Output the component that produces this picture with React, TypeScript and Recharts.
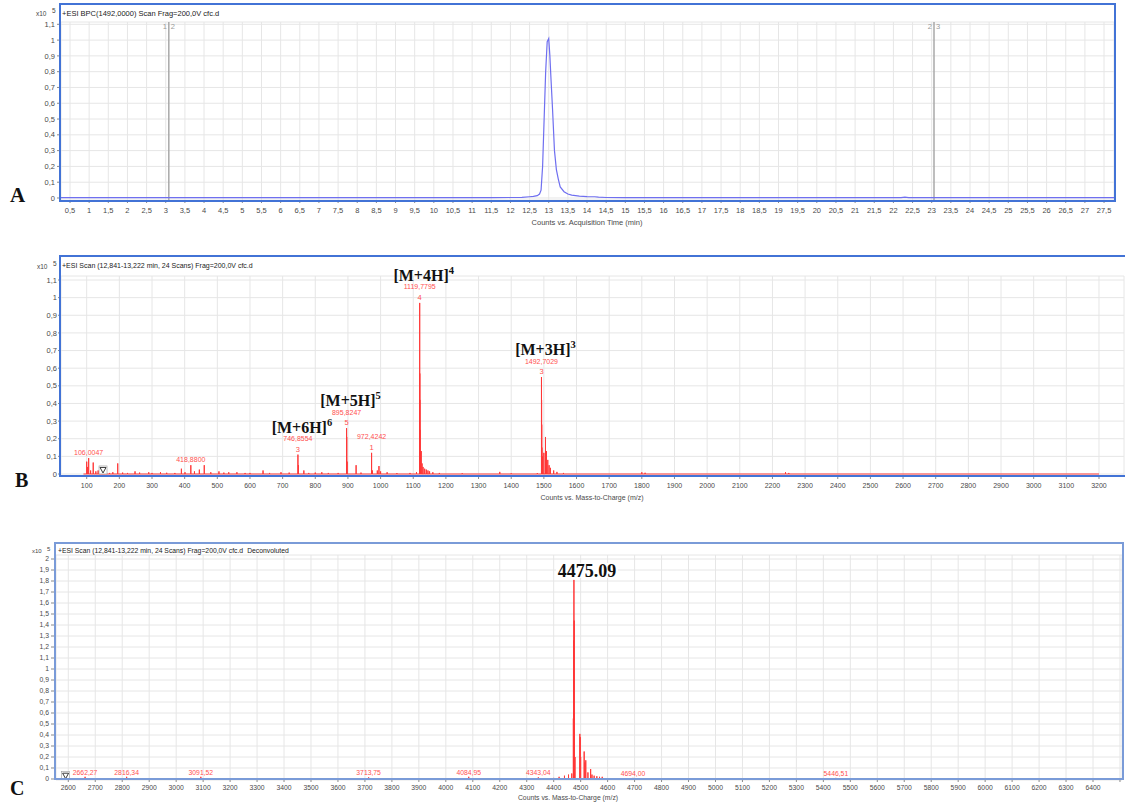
import React from "react";
import {
  ComposedChart,
  Line,
  Scatter,
  XAxis,
  YAxis,
  CartesianGrid,
  ReferenceLine,
} from "recharts";

const SANS = '"Liberation Sans", Arial, sans-serif';
const SERIF = '"Liberation Serif", "Times New Roman", serif';
const FRAME = "#4273d6";
const FRAME_C = "#7a9bd8";
const GRID = "#e6e6e6";
const TRACE_BLUE = "#6f6ff0";
const PEAK_RED = "#ff3838";
const LABEL_RED = "#ff5050";
const TICK_TEXT = "#4a4a4a";

// ---- A: base peak chromatogram (x10^5 counts vs. min)
const bpcTime = [
  0.265, 2, 5, 8, 10, 11.5, 12, 12.3, 12.5, 12.6,
  12.7, 12.76, 12.8, 12.84, 12.88, 12.92, 12.96, 13.0, 13.03, 13.06,
  13.1, 13.15, 13.2, 13.25, 13.3, 13.4, 13.5, 13.6, 13.8, 14.0,
  14.2, 14.3, 14.5, 15, 18, 22.2, 22.3, 22.4, 25, 27.76,
];
const bpcCounts = [
  0.002, 0.002, 0.002, 0.002, 0.002, 0.002, 0.003, 0.004, 0.008, 0.01,
  0.015, 0.025, 0.05, 0.2, 0.5, 0.8, 0.99, 1.01, 0.9, 0.75,
  0.56, 0.3, 0.18, 0.12, 0.07, 0.04, 0.025, 0.018, 0.012, 0.009,
  0.008, 0.005, 0.003, 0.002, 0.002, 0.002, 0.006, 0.002, 0.002, 0.002,
];
const timeTicks = [
  0.5, 1, 1.5, 2, 2.5, 3, 3.5, 4, 4.5, 5, 5.5, 6, 6.5, 7, 7.5, 8, 8.5, 9,
  9.5, 10, 10.5, 11, 11.5, 12, 12.5, 13, 13.5, 14, 14.5, 15, 15.5, 16, 16.5,
  17, 17.5, 18, 18.5, 19, 19.5, 20, 20.5, 21, 21.5, 22, 22.5, 23, 23.5, 24,
  24.5, 25, 25.5, 26, 26.5, 27, 27.5,
];
const cutTimes = [3.08, 23.06];
const cutLeft = ["1", "2"];
const cutRight = ["2", "3"];
const countTicks = [0, 0.1, 0.2, 0.3, 0.4, 0.5, 0.6, 0.7, 0.8, 0.9, 1, 1.1];

// ---- B: mass spectrum, 12,841-13,222 min
const msMz = [
  100, 103, 106.0047, 112, 120, 128, 135, 143, 150, 158,
  170, 180, 195, 210, 225, 248, 262, 290, 300, 326,
  345, 370, 390, 401, 418.88, 430, 445, 460, 480, 505,
  520, 535, 560, 585, 600, 640, 660, 695, 720, 746.8554,
  748.5, 765, 780, 800, 820, 840, 870, 895.8247, 896.2, 897.5,
  925, 940, 972.4242, 975, 990, 995, 1000, 1020, 1050, 1090,
  1110, 1119.7795, 1120.03, 1120.28, 1120.8, 1122, 1124.5, 1127, 1130, 1135,
  1140, 1145, 1150, 1160, 1180, 1250, 1365, 1400, 1480, 1492.7029,
  1493.04, 1493.4, 1494, 1496, 1500, 1505, 1508, 1512, 1516, 1520,
  1530, 1540, 1560, 1800, 1810, 2240, 2250,
];
const msCounts = [
  0.07, 0.04, 0.09, 0.02, 0.065, 0.015, 0.02, 0.03, 0.02, 0.012,
  0.006, 0.01, 0.06, 0.008, 0.006, 0.015, 0.008, 0.01, 0.006, 0.01,
  0.007, 0.006, 0.03, 0.01, 0.05, 0.015, 0.025, 0.05, 0.01, 0.015,
  0.008, 0.01, 0.01, 0.006, 0.006, 0.02, 0.006, 0.01, 0.008, 0.11,
  0.05, 0.02, 0.006, 0.008, 0.01, 0.006, 0.006, 0.26, 0.21, 0.07,
  0.05, 0.008, 0.12, 0.02, 0.02, 0.045, 0.015, 0.01, 0.005, 0.006,
  0.01, 0.97, 0.57, 0.42, 0.25, 0.12, 0.13, 0.06, 0.04, 0.03,
  0.025, 0.02, 0.015, 0.01, 0.006, 0.004, 0.012, 0.004, 0.005, 0.55,
  0.42, 0.28, 0.15, 0.1, 0.12, 0.21, 0.13, 0.08, 0.05, 0.035,
  0.02, 0.012, 0.006, 0.01, 0.007, 0.01, 0.006,
];
const mzTicks = [
  100, 200, 300, 400, 500, 600, 700, 800, 900, 1000, 1100, 1200, 1300, 1400,
  1500, 1600, 1700, 1800, 1900, 2000, 2100, 2200, 2300, 2400, 2500, 2600,
  2700, 2800, 2900, 3000, 3100, 3200,
];
const msLabelMz = [106.0047, 418.88, 746.8554, 895.8247, 972.4242, 1119.7795, 1492.7029];
const msLabelCounts = [0.09, 0.05, 0.11, 0.26, 0.12, 0.97, 0.55];
const msLabelText = ["106,0047", "418,8800", "746,8554", "895,8247", "972,4242", "1119,7795", "1492,7029"];
const msLabelCharge = ["", "", "3", "5", "1", "4", "3"];
const msIon = ["", "", "[M+6H]", "[M+5H]", "", "[M+4H]", "[M+3H]"];
const msIonCharge = ["", "", "6", "5", "", "4", "3"];

// ---- C: deconvoluted spectrum
const deconvMass = [
  2662.27, 2816.34, 2900, 3000, 3091.52, 3713.75, 4084.95, 4243, 4343.04, 4400,
  4420, 4440, 4455, 4467, 4473, 4474, 4475.09, 4476.1, 4477, 4479,
  4497, 4498.5, 4500, 4513, 4516, 4519, 4527, 4537, 4542, 4550,
  4560, 4570, 4580, 4694, 5446.51,
];
const deconvCounts = [
  0.02, 0.02, 0.005, 0.006, 0.02, 0.015, 0.02, 0.006, 0.015, 0.01,
  0.02, 0.03, 0.04, 0.05, 0.55, 1.26, 1.81, 1.44, 0.6, 0.2,
  0.41, 0.38, 0.2, 0.25, 0.15, 0.17, 0.06, 0.09, 0.04, 0.03,
  0.025, 0.02, 0.02, 0.01, 0.01,
];
const deconvTicks = [
  2600, 2700, 2800, 2900, 3000, 3100, 3200, 3300, 3400, 3500, 3600, 3700,
  3800, 3900, 4000, 4100, 4200, 4300, 4400, 4500, 4600, 4700, 4800, 4900,
  5000, 5100, 5200, 5300, 5400, 5500, 5600, 5700, 5800, 5900, 6000, 6100,
  6200, 6300, 6400, 6500,
];
const deconvCountTicks = [
  0, 0.1, 0.2, 0.3, 0.4, 0.5, 0.6, 0.7, 0.8, 0.9, 1, 1.1, 1.2, 1.3, 1.4, 1.5,
  1.6, 1.7, 1.8, 1.9, 2,
];
const deconvLabelMass = [2662.27, 2816.34, 3091.52, 3713.75, 4084.95, 4343.04, 4694, 5446.51];
const deconvLabelCounts = [0.02, 0.02, 0.02, 0.015, 0.02, 0.015, 0.01, 0.01];
const deconvLabelText = ["2662,27", "2816,34", "3091,52", "3713,75", "4084,95", "4343,04", "4694,00", "5446,51"];
const mainMass = 4475.09;
const mainCounts = 1.81;
const mainText = "4475.09";

const scanMarkB = [{ x: 150, y: 0.023 }];
const scanMarkC = [{ x: 2590, y: 0.03 }];

const fmtComma = (v: number) => String(v).replace(".", ",");

// stick spectrum: each peak goes up from the baseline and back down
const toSticks = (xs: number[], ys: number[], from: number, to: number) => {
  const pts: { x: number; y: number }[] = [{ x: from, y: 0 }];
  xs.forEach((m, i) => {
    pts.push({ x: m, y: 0 }, { x: m, y: ys[i] }, { x: m, y: 0 });
  });
  pts.push({ x: to, y: 0 });
  return pts;
};

const bpcData = bpcTime.map((t, i) => ({ x: t, y: bpcCounts[i] }));
const cutData = cutTimes.map((t, i) => ({ x: t, y: 1.1, l: cutLeft[i], r: cutRight[i] }));
const msData = toSticks(msMz, msCounts, 90, 3200);
const msLabels = msLabelMz.map((m, i) => ({
  x: m,
  y: msLabelCounts[i],
  text: msLabelText[i],
  charge: msLabelCharge[i],
  ion: msIon[i],
  ionCharge: msIonCharge[i],
}));
const deconvData = toSticks(deconvMass, deconvCounts, 2640, 5460);
const deconvLabels = deconvLabelMass.map((m, i) => ({ x: m, y: deconvLabelCounts[i], text: deconvLabelText[i] }));
const mainLabel = [{ x: mainMass, y: mainCounts, text: mainText }];

const tickStyle = (size: number) => ({ fontSize: size, fill: TICK_TEXT, fontFamily: SANS });

const CutLabel = (p: any) => {
  const { cx, cy, payload } = p;
  if (cx == null) return null;
  return (
    <g fontFamily={SANS} fontSize={7.5} fill="#9a9a9a">
      <text x={cx - 2} y={cy + 5} textAnchor="end">{payload.l}</text>
      <text x={cx + 2} y={cy + 5} textAnchor="start">{payload.r}</text>
    </g>
  );
};

const MsLabel = (p: any) => {
  const { cx, cy, payload } = p;
  if (cx == null) return null;
  const hasZ = payload.charge !== "";
  return (
    <g>
      {payload.ion && (
        <text x={cx + 4} y={cy - 22} textAnchor="middle" fontFamily={SERIF} fontWeight="bold" fontSize={16} fill="#111">
          {payload.ion}
          <tspan dy={-7} fontSize={10.5}>{payload.ionCharge}</tspan>
        </text>
      )}
      <text x={cx} y={hasZ ? cy - 13.5 : cy - 3.5} textAnchor="middle" fontFamily={SANS} fontSize={7} fill={LABEL_RED}>
        {payload.text}
      </text>
      {hasZ && (
        <text x={cx} y={cy - 3} textAnchor="middle" fontFamily={SANS} fontSize={7.5} fill={LABEL_RED}>
          {payload.charge}
        </text>
      )}
    </g>
  );
};

const DeconvLabel = (p: any) => {
  const { cx, cy, payload } = p;
  if (cx == null) return null;
  return (
    <text x={cx} y={cy - 2} textAnchor="middle" fontFamily={SANS} fontSize={6.8} fill={LABEL_RED}>
      {payload.text}
    </text>
  );
};

const MainLabel = (p: any) => {
  const { cx, cy, payload } = p;
  if (cx == null) return null;
  return (
    <g>
      <rect x={cx - 18} y={cy - 17} width={62} height={15} fill="#fff" />
      <text x={cx + 13} y={cy - 3} textAnchor="middle" fontFamily={SERIF} fontWeight="bold" fontSize={18} fill="#111">
        {payload.text}
      </text>
    </g>
  );
};

const ScanMark = (p: any) => {
  const { cx, cy } = p;
  if (cx == null) return null;
  return (
    <g>
      <rect x={cx - 4} y={cy - 4} width={8} height={8} fill="#fff" stroke="#9a9a9a" strokeWidth={0.6} />
      <path d={`M${cx - 3},${cy - 2.5} L${cx + 3},${cy - 2.5} L${cx},${cy + 3} Z`} fill="none" stroke="#222" strokeWidth={0.9} />
    </g>
  );
};

function ChromatogramPanel() {
  return (
    <ComposedChart width={1125} height={215} data={bpcData} margin={{ top: 22, right: 11, bottom: 1, left: 21 }}>
      <CartesianGrid stroke={GRID} />
      <XAxis
        type="number"
        dataKey="x"
        domain={[0.265, 27.76]}
        ticks={timeTicks}
        interval={0}
        tickFormatter={fmtComma}
        tick={tickStyle(7.5)}
        tickSize={3}
        tickMargin={5}
        tickLine={{ stroke: "#8a8a8a" }}
        axisLine={false}
        height={14}
      />
      <YAxis
        type="number"
        dataKey="y"
        domain={[-0.0127, 1.1146]}
        ticks={countTicks}
        interval={0}
        tickFormatter={fmtComma}
        tick={tickStyle(7.5)}
        tickSize={4}
        tickMargin={2}
        tickLine={{ stroke: "#8a8a8a" }}
        axisLine={false}
        width={40}
      />
      {cutTimes.map((t) => (
        <ReferenceLine key={t} x={t} stroke="#a9a9a9" strokeWidth={1.5} />
      ))}
      <Line type="linear" dataKey="y" stroke={TRACE_BLUE} strokeWidth={1.2} dot={false} activeDot={false} isAnimationActive={false} />
      <Scatter data={cutData} dataKey="y" shape={CutLabel} isAnimationActive={false} />
    </ComposedChart>
  );
}

function MassSpectrumPanel() {
  return (
    <ComposedChart width={1125} height={241} data={msData} margin={{ top: 26, right: 1, bottom: 1, left: 21 }}>
      <CartesianGrid stroke={GRID} />
      <XAxis
        type="number"
        dataKey="x"
        domain={[21.3, 3276.6]}
        ticks={mzTicks}
        interval={0}
        tick={tickStyle(7)}
        tickSize={3}
        tickMargin={4}
        tickLine={{ stroke: "#8a8a8a" }}
        axisLine={false}
        height={14}
      />
      <YAxis
        type="number"
        dataKey="y"
        domain={[-0.0113, 1.1227]}
        ticks={countTicks}
        interval={0}
        tickFormatter={fmtComma}
        tick={tickStyle(7.5)}
        tickSize={3}
        tickMargin={1}
        tickLine={{ stroke: "#8a8a8a" }}
        axisLine={false}
        width={40}
      />
      <Line type="linear" dataKey="y" stroke={PEAK_RED} strokeWidth={1} dot={false} activeDot={false} isAnimationActive={false} />
      <Scatter data={msLabels} dataKey="y" shape={MsLabel} isAnimationActive={false} />
      <Scatter data={scanMarkB} dataKey="y" shape={ScanMark} isAnimationActive={false} />
    </ComposedChart>
  );
}

function DeconvolutedPanel() {
  return (
    <ComposedChart width={1125} height={253} data={deconvData} margin={{ top: 15, right: 3, bottom: 1, left: 16 }}>
      <CartesianGrid stroke={GRID} />
      <XAxis
        type="number"
        dataKey="x"
        domain={[2554.4, 6507.5]}
        ticks={deconvTicks}
        interval={0}
        tickFormatter={(v: number) => (v === 6500 ? "" : String(v))}
        tick={tickStyle(6.8)}
        tickSize={2}
        tickMargin={3}
        tickLine={{ stroke: "#8a8a8a" }}
        axisLine={false}
        height={12}
      />
      <YAxis
        type="number"
        dataKey="y"
        domain={[-0.0091, 2.0365]}
        ticks={deconvCountTicks}
        interval={0}
        tickFormatter={fmtComma}
        tick={tickStyle(6.8)}
        tickSize={5}
        tickMargin={2}
        tickLine={{ stroke: "#8a8a8a" }}
        axisLine={false}
        width={40}
      />
      <Line type="linear" dataKey="y" stroke={PEAK_RED} strokeWidth={1} dot={false} activeDot={false} isAnimationActive={false} />
      <Scatter data={deconvLabels} dataKey="y" shape={DeconvLabel} isAnimationActive={false} />
      <Scatter data={mainLabel} dataKey="y" shape={MainLabel} isAnimationActive={false} />
      <Scatter data={scanMarkC} dataKey="y" shape={ScanMark} isAnimationActive={false} />
    </ComposedChart>
  );
}

export default function App() {
  return (
    <div
      style={{
        position: "absolute",
        left: 0,
        top: 0,
        width: 1125,
        height: 805,
        background: "#fff",
        overflow: "hidden",
        fontFamily: SANS,
      }}
    >
      <div style={{ position: "absolute", left: 0, top: 0 }}>
        <ChromatogramPanel />
      </div>
      <div style={{ position: "absolute", left: 0, top: 250 }}>
        <MassSpectrumPanel />
      </div>
      <div style={{ position: "absolute", left: 0, top: 540 }}>
        <DeconvolutedPanel />
      </div>

      {/* frames, titles, panel letters */}
      <svg width={1125} height={805} style={{ position: "absolute", left: 0, top: 0, pointerEvents: "none" }}>
        <rect x={60} y={4} width={1055} height={197} fill="none" stroke={FRAME} strokeWidth={2} />
        <path d="M1125,256 H60 V476 H1125" fill="none" stroke={FRAME} strokeWidth={2} />
        <rect x={55} y={543} width={1068} height={236} fill="none" stroke={FRAME_C} strokeWidth={2} />

        <g fontFamily={SANS} fill="#222">
          <text x={62} y={15.7} fontSize={7.5}>+ESI BPC(1492,0000) Scan Frag=200,0V cfc.d</text>
          <text x={62} y={268.3} fontSize={7}>+ESI Scan (12,841-13,222 min, 24 Scans) Frag=200,0V cfc.d</text>
          <text x={58} y={552.5} fontSize={6.8}>
            +ESI Scan (12,841-13,222 min, 24 Scans) Frag=200,0V cfc.d
            <tspan dx={4}>Deconvoluted</tspan>
          </text>
        </g>

        <g fontFamily={SANS} fill="#444">
          <text x={36} y={16.3} fontSize={6.5}>x10</text>
          <text x={52} y={13} fontSize={6.5}>5</text>
          <text x={37} y={269} fontSize={6.5}>x10</text>
          <text x={53} y={266} fontSize={6.5}>5</text>
          <text x={32} y={553} fontSize={6}>x10</text>
          <text x={47} y={550.5} fontSize={6}>5</text>
        </g>

        <g fontFamily={SANS} fill={TICK_TEXT} textAnchor="middle">
          <text x={587} y={224.5} fontSize={7.5}>Counts vs. Acquisition Time (min)</text>
          <text x={592} y={499.5} fontSize={7}>Counts vs. Mass-to-Charge (m/z)</text>
          <text x={568} y={800} fontSize={6.8}>Counts vs. Mass-to-Charge (m/z)</text>
        </g>

        <g fontFamily={SERIF} fontWeight="bold" fill="#111">
          <text x={10} y={202} fontSize={21}>A</text>
          <text x={15} y={487} fontSize={20}>B</text>
          <text x={10} y={795} fontSize={20}>C</text>
        </g>
      </svg>
    </div>
  );
}
